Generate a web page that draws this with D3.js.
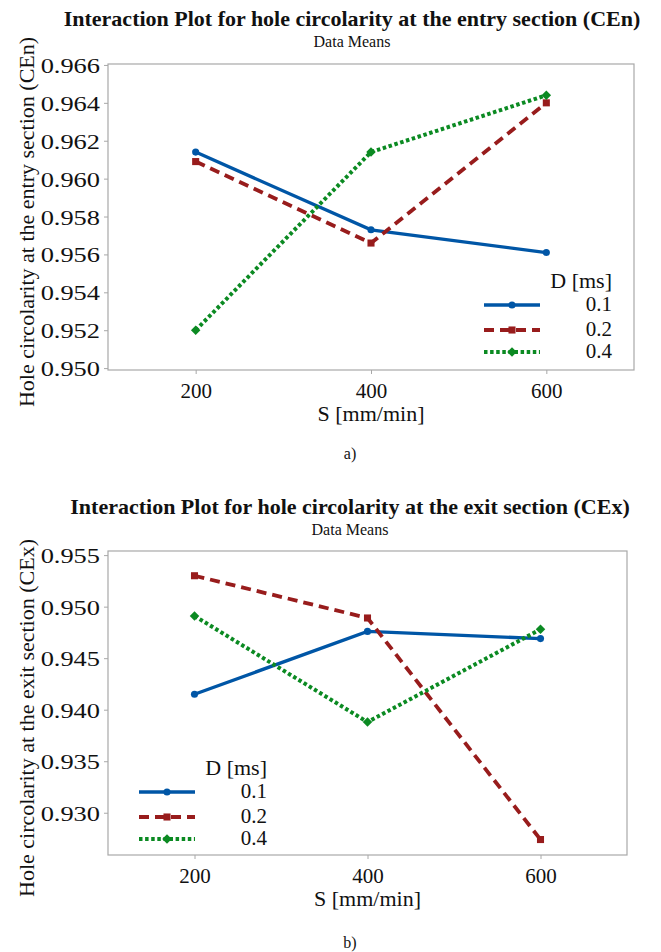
<!DOCTYPE html>
<html>
<head>
<meta charset="utf-8">
<script src="https://cdn.jsdelivr.net/npm/d3@7"></script>
<style>
  body { margin: 0; background: #fff; }
  svg { display: block; }
  svg text { font-family: "Liberation Serif", "Times New Roman", serif; fill: #111; }
</style>
</head>
<body>
<svg id="fig" width="661" height="952"></svg>
<script>
// x factor: S [mm/min]
var speeds = [200, 400, 600];
var speedTicks = [200, 400, 600];
var durations = ["0.1", "0.2", "0.4"];

// data means, entry section (CEn)
var cenD01 = [0.9614, 0.9573, 0.9561];
var cenD02 = [0.9609, 0.9566, 0.9640];
var cenD04 = [0.9520, 0.9614, 0.9644];
var cenTicks = [0.950, 0.952, 0.954, 0.956, 0.958, 0.960, 0.962, 0.964, 0.966];

// data means, exit section (CEx)
var cexD01 = [0.9415, 0.9476, 0.9469];
var cexD02 = [0.9530, 0.9489, 0.9274];
var cexD04 = [0.9491, 0.9388, 0.9478];
var cexTicks = [0.930, 0.935, 0.940, 0.945, 0.950, 0.955];

var styles = [
  {color: "#0056a6", width: 3.3, dash: null, symbol: d3.symbolCircle, size: 40, rot: 0},
  {color: "#981c1c", width: 3.8, dash: "10,6", symbol: d3.symbolSquare, size: 50, rot: 0},
  {color: "#0b8a22", width: 4, dash: "3.5,2.6", symbol: d3.symbolSquare, size: 45, rot: 45}
];

var svg = d3.select("#fig");

function drawPanel(o) {
  var x = d3.scaleLinear().domain([100, 700]).range([o.left, o.right]);
  var y = d3.scaleLinear().domain(o.ydomain).range([o.bottom, o.top]);
  var g = svg.append("g");

  // titles
  g.append("text").attr("x", o.titleX).attr("y", o.titleY)
    .attr("text-anchor", "middle").attr("font-size", 22).attr("font-weight", "bold")
    .text(o.title);
  g.append("text").attr("x", o.titleX).attr("y", o.titleY + 21)
    .attr("text-anchor", "middle").attr("font-size", 16)
    .text("Data Means");

  // frame
  g.append("rect").attr("x", o.left).attr("y", o.top)
    .attr("width", o.right - o.left).attr("height", o.bottom - o.top)
    .attr("fill", "none").attr("stroke", "#a8a8a8").attr("stroke-width", 1.2);

  // axes
  var xa = g.append("g").attr("transform", "translate(0," + o.bottom + ")")
    .call(d3.axisBottom(x).tickValues(speedTicks).tickSize(4).tickPadding(4));
  var ya = g.append("g").attr("transform", "translate(" + o.left + ",0)")
    .call(d3.axisLeft(y).tickValues(o.yticks).tickFormat(d3.format(".3f")).tickSize(4).tickPadding(4));
  [xa, ya].forEach(function(a) {
    a.attr("font-family", null).attr("font-size", null);
    a.select(".domain").remove();
    a.selectAll("line").attr("stroke", "#a8a8a8");
    a.selectAll("text").attr("fill", null);
  });
  xa.selectAll("text").attr("font-size", 21).attr("dy", "0.95em");
  ya.selectAll("text").attr("font-size", 22).attr("x", 0).attr("dy", "0.34em")
    .attr("transform", "translate(-8,0) scale(1.2,1)");

  g.append("text").attr("x", (o.left + o.right) / 2).attr("y", o.bottom + 51)
    .attr("text-anchor", "middle").attr("font-size", 22)
    .text("S [mm/min]");
  g.append("text").attr("transform", "translate(34," + o.ylabelY + ") rotate(-90)")
    .attr("text-anchor", "middle").attr("font-size", 22)
    .text(o.ylabel);

  // series
  var line = d3.line().x(function(d) { return x(d[0]); }).y(function(d) { return y(d[1]); });
  o.series.forEach(function(vals, i) {
    var st = styles[i];
    var pts = speeds.map(function(s, j) { return [s, vals[j]]; });
    g.append("path").datum(pts).attr("d", line)
      .attr("fill", "none").attr("stroke", st.color).attr("stroke-width", st.width)
      .attr("stroke-dasharray", st.dash);
    g.selectAll(null).data(pts).enter().append("path")
      .attr("d", d3.symbol().type(st.symbol).size(st.size))
      .attr("transform", function(d) { return "translate(" + x(d[0]) + "," + y(d[1]) + ") rotate(" + st.rot + ")"; })
      .attr("fill", st.color);
  });

  // legend
  var lg = g.append("g");
  lg.append("text").attr("x", o.legX + 128).attr("y", o.legY - 17)
    .attr("text-anchor", "end").attr("font-size", 22).text("D [ms]");
  var rowY = [0, 25, 47];
  durations.forEach(function(d, i) {
    var st = styles[i], yy = o.legY + rowY[i];
    lg.append("line").attr("x1", o.legX).attr("x2", o.legX + 56).attr("y1", yy).attr("y2", yy)
      .attr("stroke", st.color).attr("stroke-width", st.width).attr("stroke-dasharray", st.dash);
    lg.append("path").attr("d", d3.symbol().type(st.symbol).size(st.size))
      .attr("transform", "translate(" + (o.legX + 28) + "," + yy + ") rotate(" + st.rot + ")")
      .attr("fill", st.color);
    lg.append("text").attr("x", o.legX + 128).attr("y", yy).attr("dy", "0.3em")
      .attr("text-anchor", "end").attr("font-size", 21).text(d);
  });

  g.append("text").attr("x", 350).attr("y", o.capY).attr("text-anchor", "middle")
    .attr("font-size", 16).text(o.caption);
}

drawPanel({
  title: "Interaction Plot for hole circolarity at the entry section (CEn)",
  titleX: 352, titleY: 26,
  left: 108, right: 634, top: 64, bottom: 370,
  ydomain: [0.9499, 0.96605], yticks: cenTicks,
  ylabel: "Hole circolarity at the entry section (CEn)", ylabelY: 222,
  series: [cenD01, cenD02, cenD04],
  legX: 484, legY: 305, caption: "a)", capY: 459
});

drawPanel({
  title: "Interaction Plot for hole circolarity at the exit section (CEx)",
  titleX: 350, titleY: 514,
  left: 108, right: 627, top: 551, bottom: 855,
  ydomain: [0.9259, 0.9554], yticks: cexTicks,
  ylabel: "Hole circolarity at the exit section (CEx)", ylabelY: 718,
  series: [cexD01, cexD02, cexD04],
  legX: 139, legY: 792, caption: "b)", capY: 948
});
</script>
</body>
</html>
